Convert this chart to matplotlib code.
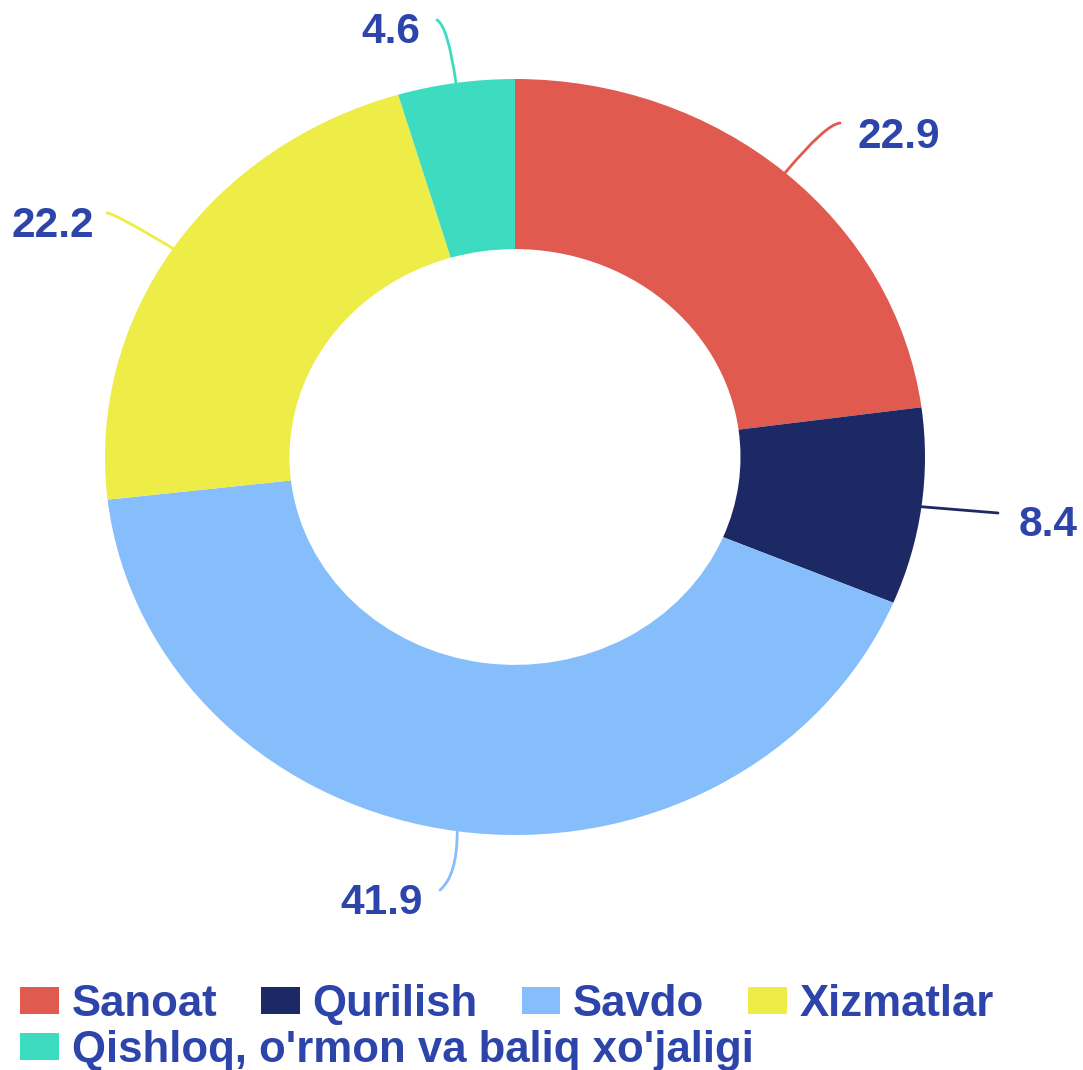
import numpy as np
import matplotlib.pyplot as plt
from matplotlib.patches import Patch

# data
categories = ['Sanoat', 'Qurilish', 'Savdo', 'Xizmatlar', "Qishloq, o'rmon va baliq xo'jaligi"]
values = [22.9, 8.4, 41.9, 22.2, 4.6]
colors = ['#E05A50', '#1C2965', '#86BEFB', '#EEEC46', '#3DDCC1']
text_color = '#2D44AA'

plt.rcParams['font.family'] = ['Liberation Sans', 'DejaVu Sans']

W, H = 1083, 1070
fig = plt.figure(figsize=(W / 100, H / 100), dpi=100)
ax = fig.add_axes([0, 0, 1, 1])

# donut centre / radii in pixels (picture is slightly wider than tall)
cx, cy, rx, ry = 515, 457, 410, 378


def px(x, y):
    return (x - cx) / rx, (cy - y) / ry


ax.pie(values, colors=colors, startangle=90, counterclock=False, radius=1,
       wedgeprops=dict(width=0.45, linewidth=0))
ax.set_aspect('auto')
ax.set_xlim(px(0, 0)[0], px(W, 0)[0])
ax.set_ylim(px(0, H)[1], px(0, 0)[1])
ax.axis('off')

# label layout: text centre, leader end, angle at leader end, angle at wedge
label_pos = [(899, 137), (1048, 525), (382, 903), (53, 226), (391, 32)]
line_end = [(840, 123), (998, 513), (440, 890), (107, 213), (437, 20)]
angle_end = [5, 5, 40, 0, -30]
angle_wedge = [50, -7, 90, -31, 98]

total = sum(values)
cum = np.cumsum([0] + values)
for i, v in enumerate(values):
    mid = 90 - 360 * (cum[i] + v / 2) / total
    p = (np.cos(np.radians(mid)), np.sin(np.radians(mid)))
    if i == 1:
        style = 'arc3,rad=0'
    else:
        style = 'angle3,angleA=%d,angleB=%d' % (angle_end[i], angle_wedge[i])
    ax.annotate('', xy=p, xytext=px(*line_end[i]),
                arrowprops=dict(arrowstyle='-', color=colors[i], lw=2,
                                shrinkA=0, shrinkB=0, connectionstyle=style))
    ax.text(*px(*label_pos[i]), f'{v}', ha='center', va='center',
            fontsize=30.5, fontweight='bold', color=text_color)

# legend in two rows
handles = [Patch(facecolor=c, edgecolor='none') for c in colors]
leg_kw = dict(frameon=False, labelcolor=text_color,
              prop={'weight': 'bold', 'size': 31.5},
              handlelength=0.88, handleheight=0.58, handletextpad=0.3,
              borderpad=0, borderaxespad=0, loc='upper left')
fig.legend(handles[:4], categories[:4], ncol=4, columnspacing=1.0,
           bbox_to_anchor=(20 / W, 1 - 984 / H), **leg_kw)
fig.legend(handles[4:], categories[4:], ncol=1,
           bbox_to_anchor=(20 / W, 1 - 1030 / H), **leg_kw)

fig.savefig('out.png', dpi=100, facecolor='white')
